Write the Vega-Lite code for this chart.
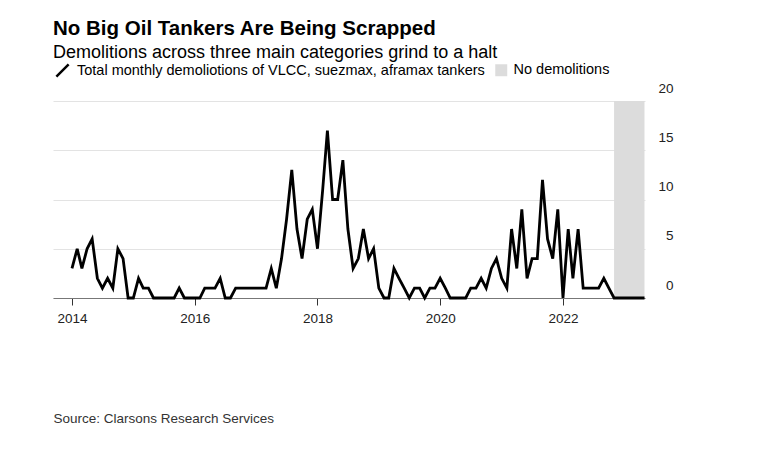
{
  "$schema": "https://vega.github.io/schema/vega-lite/v6.json",
  "width": 592,
  "height": 197,
  "autosize": {"type": "none"},
  "padding": {"left": 53, "top": 101, "right": 123, "bottom": 163},
  "background": "white",
  "config": {"view": {"stroke": null}, "font": "Liberation Sans"},
  "title": {
    "text": "No Big Oil Tankers Are Being Scrapped",
    "subtitle": "Demolitions across three main categories grind to a halt",
    "anchor": "start",
    "frame": "group",
    "fontSize": 20.5,
    "fontWeight": "bold",
    "color": "#000",
    "subtitleFontSize": 18,
    "subtitleColor": "#000",
    "subtitlePadding": 5,
    "offset": 1
  },
  "layer": [
    {
      "data": {"values": [{"start": "2022-11-01", "end": "2023-05-01", "lo": 0, "hi": 20}]},
      "mark": {"type": "rect", "opacity": 1},
      "encoding": {
        "x": {"field": "start", "type": "temporal"},
        "x2": {"field": "end"},
        "y": {"field": "hi", "type": "quantitative"},
        "y2": {"field": "lo"},
        "fill": {
          "datum": "No demolitions",
          "type": "nominal",
          "scale": {"range": ["#dcdcdc"]},
          "legend": {
            "orient": "none",
            "legendX": 441,
            "legendY": -38,
            "title": null,
            "padding": 0,
            "symbolType": "square",
            "symbolSize": 144,
            "symbolStrokeWidth": 0,
            "symbolOpacity": 1,
            "labelFontSize": 14.5,
            "labelColor": "#000",
            "labelOffset": 5,
            "labelLimit": 0
          }
        }
      }
    },
    {
      "data": {
        "values": [
          {"d": "2014-01-01", "v": 3}, {"d": "2014-02-01", "v": 5}, {"d": "2014-03-01", "v": 3}, {"d": "2014-04-01", "v": 5},
          {"d": "2014-05-01", "v": 6}, {"d": "2014-06-01", "v": 2}, {"d": "2014-07-01", "v": 1}, {"d": "2014-08-01", "v": 2},
          {"d": "2014-09-01", "v": 1}, {"d": "2014-10-01", "v": 5}, {"d": "2014-11-01", "v": 4}, {"d": "2014-12-01", "v": 0},
          {"d": "2015-01-01", "v": 0}, {"d": "2015-02-01", "v": 2}, {"d": "2015-03-01", "v": 1}, {"d": "2015-04-01", "v": 1},
          {"d": "2015-05-01", "v": 0}, {"d": "2015-06-01", "v": 0}, {"d": "2015-07-01", "v": 0}, {"d": "2015-08-01", "v": 0},
          {"d": "2015-09-01", "v": 0}, {"d": "2015-10-01", "v": 1}, {"d": "2015-11-01", "v": 0}, {"d": "2015-12-01", "v": 0},
          {"d": "2016-01-01", "v": 0}, {"d": "2016-02-01", "v": 0}, {"d": "2016-03-01", "v": 1}, {"d": "2016-04-01", "v": 1},
          {"d": "2016-05-01", "v": 1}, {"d": "2016-06-01", "v": 2}, {"d": "2016-07-01", "v": 0}, {"d": "2016-08-01", "v": 0},
          {"d": "2016-09-01", "v": 1}, {"d": "2016-10-01", "v": 1}, {"d": "2016-11-01", "v": 1}, {"d": "2016-12-01", "v": 1},
          {"d": "2017-01-01", "v": 1}, {"d": "2017-02-01", "v": 1}, {"d": "2017-03-01", "v": 1}, {"d": "2017-04-01", "v": 3},
          {"d": "2017-05-01", "v": 1}, {"d": "2017-06-01", "v": 4}, {"d": "2017-07-01", "v": 8}, {"d": "2017-08-01", "v": 13},
          {"d": "2017-09-01", "v": 7}, {"d": "2017-10-01", "v": 4}, {"d": "2017-11-01", "v": 8}, {"d": "2017-12-01", "v": 9},
          {"d": "2018-01-01", "v": 5}, {"d": "2018-02-01", "v": 11}, {"d": "2018-03-01", "v": 17}, {"d": "2018-04-01", "v": 10},
          {"d": "2018-05-01", "v": 10}, {"d": "2018-06-01", "v": 14}, {"d": "2018-07-01", "v": 7}, {"d": "2018-08-01", "v": 3},
          {"d": "2018-09-01", "v": 4}, {"d": "2018-10-01", "v": 7}, {"d": "2018-11-01", "v": 4}, {"d": "2018-12-01", "v": 5},
          {"d": "2019-01-01", "v": 1}, {"d": "2019-02-01", "v": 0}, {"d": "2019-03-01", "v": 0}, {"d": "2019-04-01", "v": 3},
          {"d": "2019-05-01", "v": 2}, {"d": "2019-06-01", "v": 1}, {"d": "2019-07-01", "v": 0}, {"d": "2019-08-01", "v": 1},
          {"d": "2019-09-01", "v": 1}, {"d": "2019-10-01", "v": 0}, {"d": "2019-11-01", "v": 1}, {"d": "2019-12-01", "v": 1},
          {"d": "2020-01-01", "v": 2}, {"d": "2020-02-01", "v": 1}, {"d": "2020-03-01", "v": 0}, {"d": "2020-04-01", "v": 0},
          {"d": "2020-05-01", "v": 0}, {"d": "2020-06-01", "v": 0}, {"d": "2020-07-01", "v": 1}, {"d": "2020-08-01", "v": 1},
          {"d": "2020-09-01", "v": 2}, {"d": "2020-10-01", "v": 1}, {"d": "2020-11-01", "v": 3}, {"d": "2020-12-01", "v": 4},
          {"d": "2021-01-01", "v": 2}, {"d": "2021-02-01", "v": 1}, {"d": "2021-03-01", "v": 7}, {"d": "2021-04-01", "v": 3},
          {"d": "2021-05-01", "v": 9}, {"d": "2021-06-01", "v": 2}, {"d": "2021-07-01", "v": 4}, {"d": "2021-08-01", "v": 4},
          {"d": "2021-09-01", "v": 12}, {"d": "2021-10-01", "v": 6}, {"d": "2021-11-01", "v": 4}, {"d": "2021-12-01", "v": 9},
          {"d": "2022-01-01", "v": 0}, {"d": "2022-02-01", "v": 7}, {"d": "2022-03-01", "v": 2}, {"d": "2022-04-01", "v": 7},
          {"d": "2022-05-01", "v": 1}, {"d": "2022-06-01", "v": 1}, {"d": "2022-07-01", "v": 1}, {"d": "2022-08-01", "v": 1},
          {"d": "2022-09-01", "v": 2}, {"d": "2022-10-01", "v": 1}, {"d": "2022-11-01", "v": 0}, {"d": "2022-12-01", "v": 0},
          {"d": "2023-01-01", "v": 0}, {"d": "2023-02-01", "v": 0}, {"d": "2023-03-01", "v": 0}, {"d": "2023-04-01", "v": 0},
          {"d": "2023-05-01", "v": 0}
        ]
      },
      "mark": {"type": "line", "strokeWidth": 2.8, "strokeJoin": "miter"},
      "encoding": {
        "x": {
          "field": "d",
          "type": "temporal",
          "scale": {"domain": ["2013-09-10", "2023-05-04"]},
          "axis": {
            "values": [
              {"year": 2014, "month": 1, "date": 1},
              {"year": 2016, "month": 1, "date": 1},
              {"year": 2018, "month": 1, "date": 1},
              {"year": 2020, "month": 1, "date": 1},
              {"year": 2022, "month": 1, "date": 1}
            ],
            "format": "%Y",
            "grid": false,
            "tickSize": 7,
            "tickColor": "#333",
            "domainColor": "#777",
            "labelFontSize": 13.5,
            "labelColor": "#222",
            "labelPadding": 6,
            "title": "Source: Clarsons Research Services",
            "titleAnchor": "start",
            "titleAlign": "left",
            "titleX": 0,
            "titleY": 124,
            "titleBaseline": "alphabetic",
            "titleFontWeight": "normal",
            "titleFontSize": 13.5,
            "titleColor": "#333"
          }
        },
        "y": {
          "field": "v",
          "type": "quantitative",
          "scale": {"domain": [0, 20]},
          "axis": {
            "orient": "right",
            "values": [0, 5, 10, 15, 20],
            "grid": true,
            "gridColor": "#e3e3e3",
            "domain": false,
            "ticks": false,
            "labelAlign": "right",
            "labelPadding": 28,
            "labelBaseline": "alphabetic",
            "labelOffset": -9,
            "labelFontSize": 13.5,
            "labelColor": "#222",
            "title": null
          }
        },
        "stroke": {
          "datum": "Total monthly demoliotions of VLCC, suezmax, aframax tankers",
          "type": "nominal",
          "scale": {"range": ["#000000"]},
          "legend": {
            "orient": "none",
            "legendX": 2,
            "legendY": -38,
            "title": null,
            "padding": 0,
            "symbolType": "M-1,1L1,-1",
            "symbolSize": 150,
            "symbolStrokeWidth": 2.5,
            "symbolFillColor": "transparent",
            "labelFontSize": 14.5,
            "labelColor": "#000",
            "labelOffset": 7,
            "labelLimit": 0
          }
        }
      }
    }
  ]
}
